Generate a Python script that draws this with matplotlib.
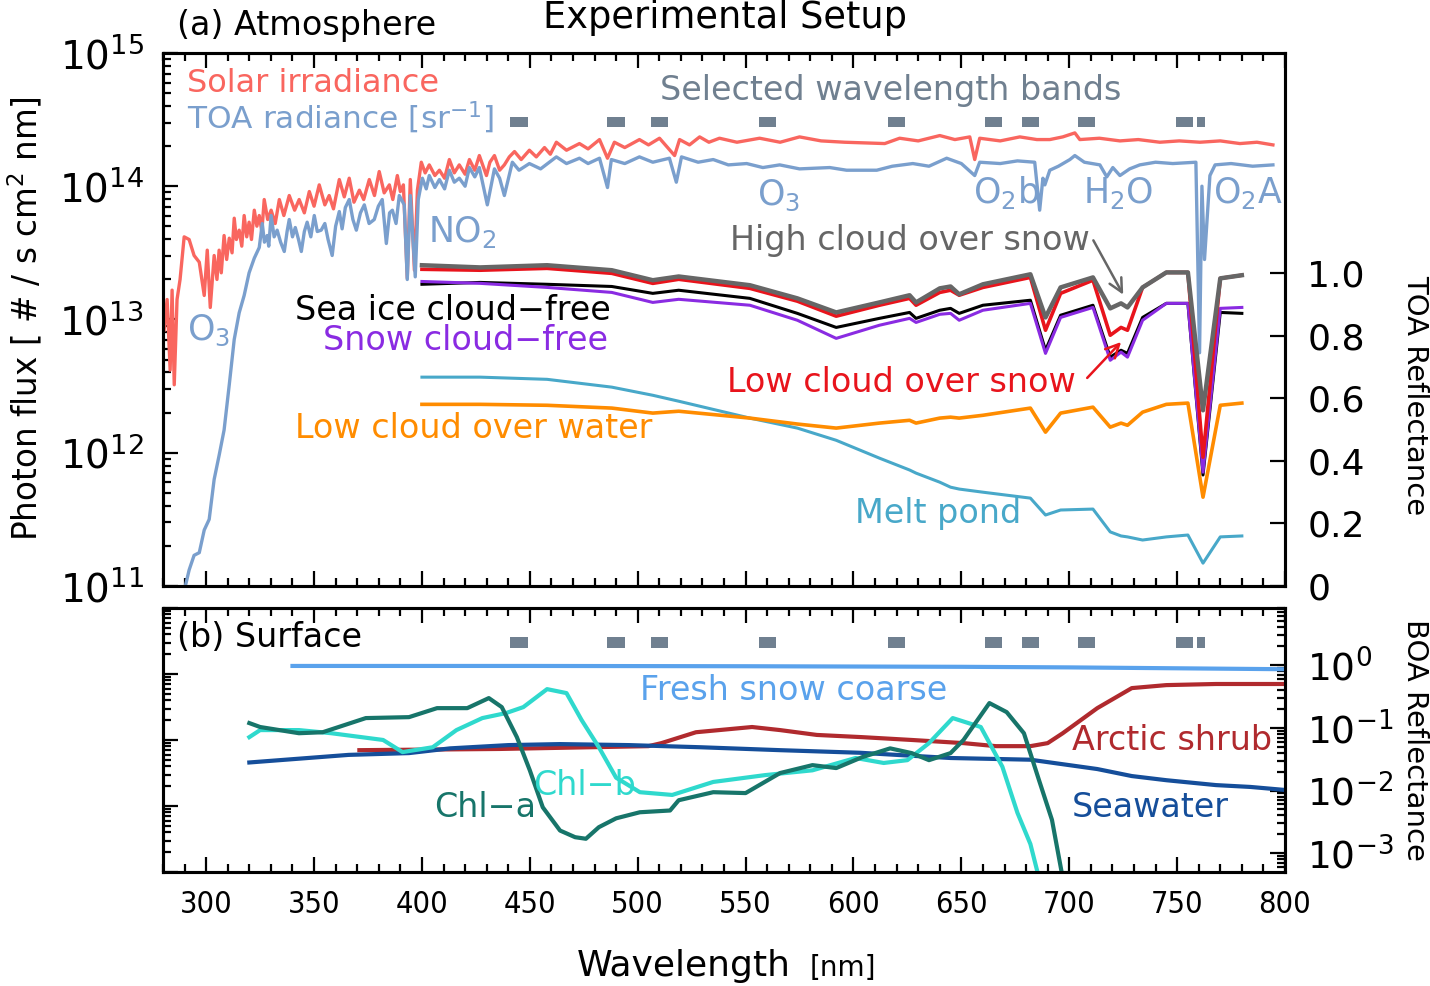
import numpy as np
import matplotlib
from matplotlib import pyplot as plt
from matplotlib import font_manager
from matplotlib.patches import Rectangle
from matplotlib.ticker import LogLocator, MultipleLocator, NullFormatter, FixedLocator

matplotlib.use('agg')

# ---------------- data ----------------
# (a) solar irradiance / TOA radiance, log10 of photon flux
solar_wl = [280.5, 281.9, 283.3, 284.2, 285.2, 286.5, 287.9, 289.8, 292.1, 294.4,
            296.8, 299.1, 300.5, 301.9, 303.7, 305.0, 306.0, 307.0, 308.3, 309.5,
            310.7, 312.0, 313.0, 314.0, 315.3, 316.5, 317.6, 318.8, 319.9, 321.0,
            322.3, 323.5, 324.6, 325.8, 326.9, 328.5, 330.1, 332.0, 333.9, 336.0,
            338.5, 341.0, 343.1, 345.5, 347.8, 350.0, 352.4, 355.0, 357.0, 359.0,
            361.7, 364.0, 366.3, 368.5, 371.0, 373.0, 375.6, 378.0, 380.2, 382.5,
            384.9, 386.5, 388.6, 390.0, 391.4, 393.2, 394.6, 396.5, 397.9, 399.7,
            401.5, 403.4, 406.0, 408.1, 410.5, 412.7, 415.0, 417.3, 420.0, 422.0,
            424.5, 426.6, 429.9, 431.5, 433.6, 436.0, 438.2, 440.5, 442.9, 446.0,
            449.8, 453.0, 456.8, 459.5, 462.3, 467.0, 473.0, 477.0, 482.3, 486.0,
            489.2, 494.0, 500.8, 505.0, 510.1, 517.1, 519.4, 524.0, 528.7, 533.0,
            537.9, 546.0, 556.5, 566.0, 575.0, 585.0, 595.9, 614.5, 621.4, 630.0,
            640.0, 647.0, 653.9, 656.2, 658.5, 668.0, 677.1, 685.0, 691.0, 697.0,
            702.6, 704.9, 714.0, 723.5, 732.0, 742.0, 751.0, 760.6, 770.0, 779.1,
            787.0, 794.4]
solar_log10 = [12.92, 13.15, 12.62, 13.22, 12.51, 13.15, 13.30, 13.62, 13.60, 13.48,
               13.43, 13.18, 13.52, 13.09, 13.48, 13.30, 13.52, 13.35, 13.63, 13.45,
               13.61, 13.50, 13.76, 13.60, 13.67, 13.55, 13.78, 13.62, 13.73, 13.60,
               13.82, 13.70, 13.78, 13.66, 13.90, 13.75, 13.82, 13.72, 13.90, 13.78,
               13.93, 13.82, 13.90, 13.80, 13.96, 13.85, 14.01, 13.86, 13.93, 13.83,
               14.05, 13.92, 14.06, 13.88, 13.97, 13.90, 14.05, 13.93, 14.11, 13.95,
               14.01, 13.90, 14.08, 13.96, 14.01, 13.31, 14.05, 13.37, 13.97, 14.18,
               14.10, 14.16, 14.08, 14.12, 14.06, 14.20, 14.10, 14.16, 14.09, 14.20,
               14.12, 14.23, 14.08, 14.18, 14.23, 14.12, 14.16, 14.22, 14.26, 14.20,
               14.27, 14.22, 14.29, 14.24, 14.33, 14.27, 14.32, 14.28, 14.35, 14.21,
               14.33, 14.29, 14.35, 14.31, 14.36, 14.23, 14.35, 14.31, 14.37, 14.33,
               14.36, 14.33, 14.36, 14.33, 14.37, 14.34, 14.33, 14.32, 14.36, 14.34,
               14.38, 14.35, 14.37, 14.20, 14.36, 14.34, 14.37, 14.35, 14.35, 14.37,
               14.40, 14.35, 14.36, 14.34, 14.35, 14.33, 14.34, 14.33, 14.34, 14.32,
               14.33, 14.31]

toa_wl = [288.9, 292.1, 294.4, 296.8, 299.1, 301.4, 303.7, 306.0, 308.3, 310.7,
          313.0, 315.3, 317.6, 319.9, 322.3, 324.6, 326.0, 327.0, 328.3, 329.0,
          330.1, 331.5, 332.9, 334.5, 336.2, 337.5, 338.5, 340.0, 341.3, 342.8,
          344.1, 345.5, 346.8, 348.5, 350.1, 351.5, 353.3, 355.0, 356.5, 358.4,
          360.0, 361.7, 363.0, 364.5, 366.3, 368.0, 369.6, 371.5, 373.3, 375.5,
          377.9, 379.8, 381.6, 383.5, 385.0, 386.3, 388.0, 389.5, 391.8, 393.2,
          394.6, 396.9, 398.3, 400.2, 402.0, 403.4, 406.0, 408.1, 410.5, 412.7,
          415.0, 417.3, 420.0, 422.0, 424.5, 426.6, 430.3, 433.6, 436.0, 438.2,
          441.9, 445.0, 449.8, 455.0, 462.3, 467.0, 473.0, 477.0, 482.3, 486.0,
          487.8, 494.0, 500.8, 507.0, 514.7, 517.9, 520.3, 528.0, 535.0, 542.0,
          550.5, 558.0, 565.8, 575.0, 589.0, 596.8, 610.8, 618.0, 627.5, 635.0,
          643.2, 650.0, 656.2, 658.5, 668.0, 676.0, 684.0, 686.3, 687.8, 688.7,
          691.0, 695.0, 700.3, 702.6, 707.0, 714.2, 717.4, 720.2, 723.5, 728.0,
          732.7, 740.0, 748.0, 758.7, 760.4, 761.5, 762.7, 765.2, 767.6, 775.0,
          785.0, 794.4]
toa_log10 = [10.90, 11.12, 11.23, 11.25, 11.42, 11.50, 11.80, 11.98, 12.17, 12.51,
             12.85, 13.05, 13.18, 13.35, 13.46, 13.54, 13.72, 13.58, 13.63, 13.55,
             13.78, 13.62, 13.67, 13.58, 13.51, 13.66, 13.75, 13.62, 13.69, 13.60,
             13.51, 13.66, 13.73, 13.62, 13.78, 13.66, 13.67, 13.72, 13.60, 13.48,
             13.70, 13.81, 13.68, 13.84, 13.90, 13.75, 13.67, 13.80, 13.86, 13.72,
             13.75, 13.85, 13.90, 13.57, 13.80, 13.82, 13.72, 13.93, 13.86, 13.30,
             13.93, 13.32, 13.90, 14.06, 13.98, 14.08, 13.99, 14.05, 13.98, 14.12,
             14.03, 14.06, 14.00, 14.14, 14.07, 14.14, 13.86, 14.13, 14.06, 13.93,
             14.18, 14.12, 14.17, 14.13, 14.22, 14.17, 14.21, 14.17, 14.21, 13.99,
             14.20, 14.17, 14.22, 14.18, 14.21, 14.03, 14.22, 14.18, 14.20, 14.16,
             14.17, 14.14, 14.16, 14.13, 14.14, 14.12, 14.12, 14.15, 14.17, 14.15,
             14.21, 14.17, 14.08, 14.18, 14.17, 14.19, 14.18, 13.82, 14.06, 14.01,
             14.12, 14.15, 14.20, 14.23, 14.18, 14.16, 14.07, 14.14, 14.08, 14.13,
             14.16, 14.18, 14.17, 14.18, 12.75, 14.00, 13.45, 14.08, 14.16, 14.17,
             14.15, 14.16]

# (a) TOA reflectance of the scenes
refl_wl = [400, 427, 458, 488, 507, 519, 552, 574, 592, 612, 626, 629, 640, 645, 649,
           660, 682, 689, 696, 711, 719, 724, 727, 734, 745, 755, 762, 770, 780]
high_cloud_snow = [1.026, 1.019, 1.026, 1.010, 0.978, 0.990, 0.962, 0.920, 0.875, 0.907,
                   0.930, 0.907, 0.952, 0.958, 0.933, 0.965, 0.997, 0.859, 0.955, 0.987,
                   0.888, 0.904, 0.891, 0.955, 1.003, 1.003, 0.562, 0.984, 0.994]
low_cloud_snow = [1.013, 1.010, 1.016, 1.000, 0.968, 0.981, 0.952, 0.911, 0.863, 0.898,
                  0.920, 0.898, 0.939, 0.946, 0.930, 0.955, 0.987, 0.818, 0.936, 0.978,
                  0.802, 0.827, 0.818, 0.955, 1.003, 1.003, 0.412, 0.984, 0.994]
sea_ice = [0.965, 0.971, 0.965, 0.958, 0.936, 0.946, 0.920, 0.872, 0.827, 0.856,
           0.875, 0.856, 0.882, 0.888, 0.872, 0.898, 0.914, 0.754, 0.866, 0.898,
           0.732, 0.754, 0.744, 0.859, 0.904, 0.904, 0.355, 0.875, 0.872]
snow = [0.974, 0.968, 0.955, 0.939, 0.907, 0.917, 0.898, 0.850, 0.792, 0.834,
        0.856, 0.843, 0.869, 0.872, 0.850, 0.882, 0.904, 0.744, 0.859, 0.891,
        0.722, 0.748, 0.732, 0.850, 0.904, 0.904, 0.364, 0.888, 0.891]
low_cloud_water = [0.581, 0.581, 0.578, 0.569, 0.553, 0.559, 0.537, 0.518, 0.505, 0.521,
                   0.530, 0.521, 0.537, 0.540, 0.537, 0.546, 0.569, 0.492, 0.553, 0.572,
                   0.508, 0.521, 0.514, 0.556, 0.581, 0.585, 0.284, 0.578, 0.585]
melt_pond = [0.668, 0.668, 0.661, 0.636, 0.610, 0.591, 0.537, 0.505, 0.466, 0.409,
             0.371, 0.361, 0.332, 0.316, 0.310, 0.300, 0.281, 0.227, 0.243, 0.246,
             0.173, 0.160, 0.157, 0.147, 0.157, 0.163, 0.073, 0.157, 0.160]

# selected wavelength bands [nm]
band_center = [445, 490, 510, 560, 620, 665, 682, 708, 753.4, 761]
band_width = [8, 8, 8, 8, 8, 8, 8, 8, 8, 3.7]

# (b) surface (BOA) reflectance
fresh_wl = [340, 450, 550, 650, 700, 750, 800]
fresh_snow = [0.97, 0.97, 0.96, 0.94, 0.92, 0.89, 0.86]
shrub_wl = [371, 436, 505, 511, 527, 553, 566, 583, 604, 627, 651, 666, 682, 690, 697,
            713, 729, 745, 768, 800]
shrub = [0.044, 0.046, 0.051, 0.057, 0.085, 0.103, 0.092, 0.077, 0.071, 0.064, 0.057,
         0.051, 0.051, 0.057, 0.082, 0.206, 0.43, 0.48, 0.50, 0.50]
sea_wl = [320, 366, 394, 413, 440, 464, 496, 529, 566, 603, 645, 682, 713, 729, 745,
          768, 784, 800]
seawater = [0.028, 0.037, 0.0395, 0.047, 0.053, 0.055, 0.053, 0.049, 0.044, 0.040,
            0.033, 0.031, 0.022, 0.0170, 0.0146, 0.0122, 0.0114, 0.0102]
chla_wl = [320, 325, 343, 354, 374, 394, 407, 421, 431, 437, 444, 450, 456, 464, 471,
           476, 482, 490, 501, 515, 519, 535, 550, 566, 581, 592, 604, 617, 627, 635,
           645, 651, 663, 671, 679, 686, 692, 697]
chla = [0.119, 0.103, 0.082, 0.085, 0.143, 0.148, 0.206, 0.206, 0.298, 0.214,
        0.071, 0.021, 0.0054, 0.0023, 0.0018, 0.0017, 0.0026, 0.0036, 0.0045, 0.0048,
        0.0070, 0.0094, 0.0091, 0.019, 0.0254, 0.0228, 0.034, 0.047, 0.0395, 0.0305,
        0.0395, 0.064, 0.248, 0.178, 0.082, 0.0146, 0.0034, 0.0004]
chlb_wl = [320, 325, 343, 358, 382, 391, 405, 416, 428, 439, 447, 458, 467, 474, 482,
           490, 501, 516, 535, 559, 581, 601, 614, 625, 635, 646, 659, 669, 676, 682, 686]
chlb = [0.071, 0.092, 0.092, 0.082, 0.064, 0.041, 0.049, 0.092, 0.143, 0.172,
        0.214, 0.414, 0.358, 0.133, 0.049, 0.016, 0.0094, 0.0085, 0.0137, 0.0176,
        0.021, 0.033, 0.0275, 0.0305, 0.057, 0.143, 0.103, 0.024, 0.0044, 0.0014, 0.0004]

# ---------------- style ----------------
c_solar = '#f9665f'
c_toa = '#7a9fcd'
c_band = '#708090'
c_high = '#666666'
c_lowsnow = '#e8141c'
c_snow = '#8a2be2'
c_water = '#ff8c00'
c_melt = '#48a8c9'
c_fresh = '#5aa2ec'
c_shrub = '#b02a2e'
c_sea = '#154e9a'
c_chla = '#17756a'
c_chlb = '#2fd9cd'

# narrow face for the wavelength tick labels, if one is installed
xtick_font = font_manager.FontProperties(family='DejaVu Sans', size=19)
cond = font_manager.FontProperties(family='DejaVu Sans', stretch='condensed')
if 'Condensed' in font_manager.findfont(cond):
    xtick_font = font_manager.FontProperties(family='DejaVu Sans', stretch='condensed', size=22)

plt.rcParams['font.family'] = 'DejaVu Sans'
plt.rcParams['axes.linewidth'] = 2.2

fig = plt.figure(figsize=(14.3, 9.86), dpi=100)
ax1 = fig.add_axes([0.114, 0.4057, 0.7846, 0.5406])
ax2 = fig.add_axes([0.114, 0.1156, 0.7846, 0.2677])

# ---- panel (a) ----
ax1.set_yscale('log')
ax1.plot(solar_wl, 10 ** np.array(solar_log10), color=c_solar, lw=2.4)
ax1.plot(toa_wl, 10 ** np.array(toa_log10), color=c_toa, lw=2.4)
ax1.set_ylim(1e11, 1e15)
ax1.set_xlim(280, 800)
ax1.yaxis.set_major_locator(LogLocator(base=10, numticks=10))
ax1.yaxis.set_minor_locator(LogLocator(base=10, subs=np.arange(2, 10), numticks=10))
ax1.yaxis.set_minor_formatter(NullFormatter())

ax1r = ax1.twinx()
ax1r.plot(refl_wl, melt_pond, color=c_melt, lw=2.2)
ax1r.plot(refl_wl, low_cloud_water, color=c_water, lw=2.6)
ax1r.plot(refl_wl, sea_ice, color='black', lw=2.2)
ax1r.plot(refl_wl, snow, color=c_snow, lw=2.2)
ax1r.plot(refl_wl, low_cloud_snow, color=c_lowsnow, lw=2.6)
ax1r.plot(refl_wl, high_cloud_snow, color=c_high, lw=3.2)
ax1r.set_ylim(0, 1.705)
ax1r.yaxis.set_major_locator(FixedLocator([0, 0.2, 0.4, 0.6, 0.8, 1.0]))
ax1r.set_yticklabels(['0', '0.2', '0.4', '0.6', '0.8', '1.0'])

for c, w in zip(band_center, band_width):
    ax1r.add_patch(Rectangle((c - w / 2, 0.861), w, 0.019, transform=ax1r.get_xaxis_transform(),
                             color=c_band, lw=0, zorder=5))

# ---- panel (b) ----
ax2.set_yscale('log')
ax2.set_ylim(1e-3, 1e1)
ax2.set_xlim(280, 800)
ax2.yaxis.set_major_locator(LogLocator(base=10, numticks=10))
ax2.yaxis.set_minor_locator(LogLocator(base=10, subs=np.arange(2, 10), numticks=10))
ax2.yaxis.set_major_formatter(NullFormatter())
ax2.yaxis.set_minor_formatter(NullFormatter())

ax2r = ax2.twinx()
ax2r.set_yscale('log')
ax2r.plot(fresh_wl, fresh_snow, color=c_fresh, lw=3)
ax2r.plot(shrub_wl, shrub, color=c_shrub, lw=3)
ax2r.plot(sea_wl, seawater, color=c_sea, lw=3)
ax2r.plot(chlb_wl, chlb, color=c_chlb, lw=3)
ax2r.plot(chla_wl, chla, color=c_chla, lw=3)
ax2r.set_ylim(10 ** -3.3, 10 ** 0.91)
ax2r.yaxis.set_major_locator(FixedLocator([1e-3, 1e-2, 1e-1, 1e0]))
ax2r.yaxis.set_minor_locator(LogLocator(base=10, subs=np.arange(2, 10), numticks=10))
ax2r.yaxis.set_minor_formatter(NullFormatter())

for c, w in zip(band_center, band_width):
    ax2r.add_patch(Rectangle((c - w / 2, 0.848), w, 0.042, transform=ax2r.get_xaxis_transform(),
                             color=c_band, lw=0, zorder=5))

# ---- ticks ----
for ax in (ax1, ax2):
    ax.xaxis.set_major_locator(MultipleLocator(50))
    ax.xaxis.set_minor_locator(MultipleLocator(10))
    ax.tick_params(which='both', direction='in', top=True, bottom=True, width=1.6)
    ax.tick_params(which='major', length=11)
    ax.tick_params(which='minor', length=6)
ax1.tick_params(axis='x', labelbottom=False)
ax1.tick_params(axis='y', which='major', labelsize=28, pad=14)
ax2.tick_params(axis='x', which='major', pad=13)
for lab in ax2.get_xticklabels():
    lab.set_fontproperties(xtick_font)
ax1r.tick_params(which='both', direction='in', width=1.6)
ax1r.tick_params(which='major', length=11, labelsize=26, pad=16)
ax2r.tick_params(which='both', direction='in', width=1.6)
ax2r.tick_params(which='major', length=11, labelsize=27, pad=16)
ax2r.tick_params(which='minor', length=6)

# ---- labels panel (a) ----
fs = 24
fg = 25
fig.text(0.507, 0.9716, 'Experimental Setup', fontsize=26.5, ha='center', va='baseline')
fig.text(0.1238, 0.9645, '(a) Atmosphere', fontsize=24, ha='left', va='baseline')
t = ax1r.transAxes
ax1r.text(0.0214, 0.926, 'Solar irradiance', color=c_solar, fontsize=23, transform=t, va='baseline')
ax1r.text(0.0214, 0.857, 'TOA radiance [sr$^{-1}$]', color=c_toa, fontsize=22.5, transform=t,
          va='baseline')
ax1r.text(0.443, 0.912, 'Selected wavelength bands', color=c_band, fontsize=fs, transform=t, va='baseline')
ax1r.text(0.529, 0.715, 'O$_3$', color=c_toa, fontsize=fg, transform=t, va='baseline')
ax1r.text(0.0214, 0.4615, 'O$_3$', color=c_toa, fontsize=fg, transform=t, va='baseline')
ax1r.text(0.236, 0.645, 'NO$_2$', color=c_toa, fontsize=fg, transform=t, va='baseline')
ax1r.text(0.722, 0.7186, 'O$_2$b', color=c_toa, fontsize=fg, transform=t, va='baseline')
ax1r.text(0.820, 0.7186, 'H$_2$O', color=c_toa, fontsize=fg, transform=t, va='baseline')
ax1r.text(0.936, 0.7186, 'O$_2$A', color=c_toa, fontsize=fg, transform=t, va='baseline')
ax1r.text(0.505, 0.630, 'High cloud over snow', color=c_high, fontsize=fs, transform=t, va='baseline')
ax1r.text(0.1176, 0.499, 'Sea ice cloud\u2212free', color='black', fontsize=fs, transform=t, va='baseline')
ax1r.text(0.1426, 0.443, 'Snow cloud\u2212free', color=c_snow, fontsize=fs, transform=t, va='baseline')
ax1r.text(0.5027, 0.364, 'Low cloud over snow', color=c_lowsnow, fontsize=fs, transform=t, va='baseline')
ax1r.text(0.1176, 0.2777, 'Low cloud over water', color=c_water, fontsize=fs, transform=t, va='baseline')
ax1r.text(0.617, 0.118, 'Melt pond', color=c_melt, fontsize=fs, transform=t, va='baseline')
ax1r.annotate('', xy=(0.857, 0.542), xytext=(0.828, 0.653), xycoords='axes fraction',
              arrowprops=dict(arrowstyle='->', color=c_high, lw=1.8, mutation_scale=24))
ax1r.annotate('', xy=(0.8556, 0.4615), xytext=(0.822, 0.3865), xycoords='axes fraction',
              arrowprops=dict(arrowstyle='->', color=c_lowsnow, lw=1.8, mutation_scale=24))

# ---- labels panel (b) ----
t = ax2r.transAxes
ax2r.text(0.0125, 0.852, '(b) Surface', color='black', fontsize=24, transform=t, va='baseline')
ax2r.text(0.425, 0.6515, 'Fresh snow coarse', color=c_fresh, fontsize=fs, transform=t, va='baseline')
ax2r.text(0.810, 0.462, 'Arctic shrub', color=c_shrub, fontsize=fs, transform=t, va='baseline')
ax2r.text(0.810, 0.208, 'Seawater', color=c_sea, fontsize=fs, transform=t, va='baseline')
ax2r.text(0.2415, 0.208, 'Chl\u2212a', color=c_chla, fontsize=fs, transform=t, va='baseline')
ax2r.text(0.330, 0.2917, 'Chl\u2212b', color=c_chlb, fontsize=fs, transform=t, va='baseline')

# ---- axis titles ----
fig.text(0.0175, 0.6765, 'Photon flux [ # / s cm$^2$ nm]', fontsize=23.5, rotation=90,
         ha='center', va='center')
fig.text(0.9895, 0.5994, 'TOA Reflectance', fontsize=21, rotation=270, ha='center', va='center')
fig.text(0.9895, 0.2495, 'BOA Reflectance', fontsize=21, rotation=270, ha='center', va='center')
fig.text(0.4035, 0.0101, 'Wavelength', fontsize=26, ha='left', va='baseline')
fig.text(0.5664, 0.0101, '[nm]', fontproperties=font_manager.FontProperties(
    family='DejaVu Sans', size=20), ha='left', va='baseline')

fig.savefig('out.png', dpi=100)
plt.close(fig)
